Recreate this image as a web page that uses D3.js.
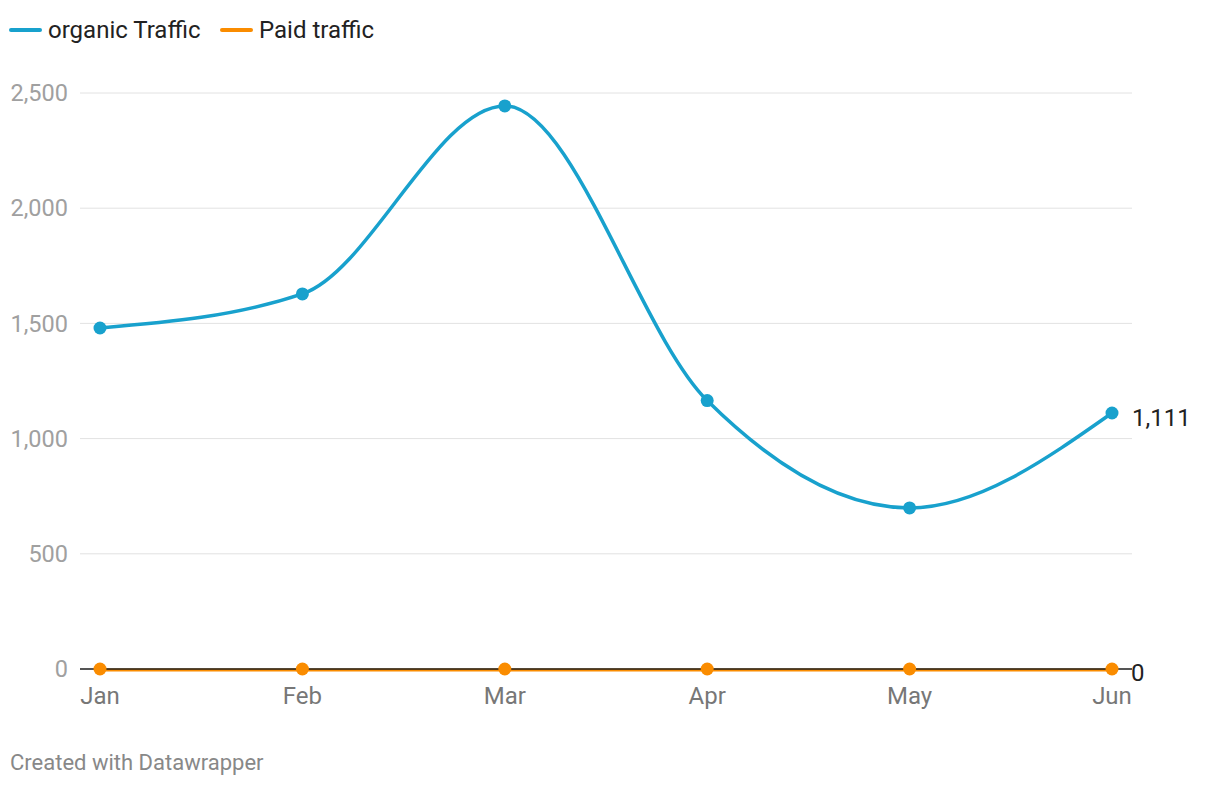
<!DOCTYPE html>
<html><head><meta charset="utf-8">
<script src="https://cdn.jsdelivr.net/npm/d3@7/dist/d3.min.js"></script>
<style>body{margin:0;background:#fff;font-family:Roboto,sans-serif}</style>
</head><body><svg id="c" width="1220" height="786"></svg>
<script>
const months = ["Jan","Feb","Mar","Apr","May","Jun"];
const organic = [1480, 1628, 2444, 1165, 699, 1111];
const paid = [0, 0, 0, 0, 0, 0];
const yTicks = [0, 500, 1000, 1500, 2000, 2500];
const seriesNames = ["organic Traffic", "Paid traffic"];
const colors = ["#18a1cd", "#fa8c00"];

const svg = d3.select("#c");
const x = d3.scalePoint().domain(months).range([100, 1112]);
const y = d3.scaleLinear().domain([0, 2500]).range([669, 93]);
const fmt = d3.format(",");

const g = svg.append("g");
g.selectAll("line.grid").data(yTicks.filter(d=>d>0)).join("line")
  .attr("x1", 80).attr("x2", 1132)
  .attr("y1", d=>y(d)).attr("y2", d=>y(d))
  .attr("stroke", "#e2e2e2").attr("stroke-width", 1);
g.selectAll("text.yl").data(yTicks).join("text")
  .attr("x", 68).attr("y", d=>y(d)).attr("dy", "0.35em")
  .attr("text-anchor", "end").attr("font-size", 23.5).attr("fill", "#a0a0a0")
  .text(d=>fmt(d));

g.selectAll("text.xl").data(months).join("text")
  .attr("x", d=>x(d)).attr("y", 704).attr("text-anchor", "middle")
  .attr("font-size", 24).attr("fill", "#777").text(d=>d);

const line = d3.line().x((d,i)=>x(months[i])).y(d=>y(d)).curve(d3.curveMonotoneX);

svg.append("path").attr("d", line(paid)).attr("fill","none")
  .attr("stroke", colors[1]).attr("stroke-width", 3).attr("transform","translate(0,1)");
svg.append("line").attr("x1", 80).attr("x2", 1132).attr("y1", y(0)).attr("y2", y(0))
  .attr("stroke", "#1d1d1d").attr("stroke-width", 1.5);
svg.selectAll("circle.p").data(paid).join("circle")
  .attr("cx",(d,i)=>x(months[i])).attr("cy", d=>y(d)).attr("r", 6.5).attr("fill", colors[1]);

svg.append("path").attr("d", line(organic)).attr("fill","none")
  .attr("stroke", colors[0]).attr("stroke-width", 3.5);
svg.selectAll("circle.o").data(organic).join("circle")
  .attr("cx",(d,i)=>x(months[i])).attr("cy", d=>y(d)).attr("r", 6.5).attr("fill", colors[0]);

svg.append("text").attr("x", 1132).attr("y", y(organic[5])+5).attr("dy","0.35em")
  .attr("font-size", 24).attr("fill", "#222").text(fmt(organic[5]));
svg.append("text").attr("x", 1131).attr("y", y(paid[5])+4).attr("dy","0.35em")
  .attr("font-size", 24).attr("fill", "#222").text(fmt(paid[5]));

const leg = svg.append("g");
const legX = [11, 222];
seriesNames.forEach((n,i)=>{
  leg.append("line").attr("x1", legX[i]).attr("x2", legX[i]+29).attr("y1", 30).attr("y2", 30)
    .attr("stroke", colors[i]).attr("stroke-width", 4).attr("stroke-linecap","round");
  leg.append("text").attr("x", legX[i]+37).attr("y", 30).attr("dy","0.35em")
    .attr("font-size", 24).attr("fill", "#222").text(n);
});

svg.append("text").attr("x", 10).attr("y", 770).attr("font-size", 22).attr("fill", "#888")
  .text("Created with Datawrapper");
</script></body></html>
